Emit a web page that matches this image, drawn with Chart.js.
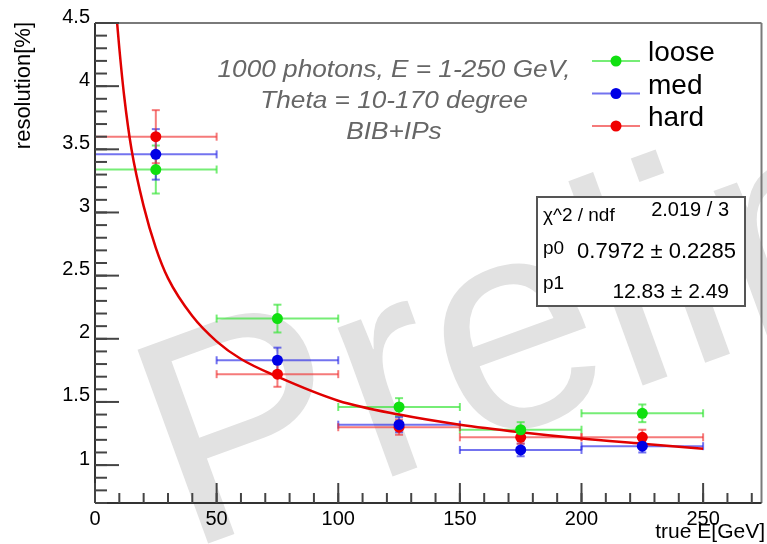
<!DOCTYPE html>
<html lang="en">
<head>
<meta charset="UTF-8">
<title>Resolution vs true E</title>
<script src="https://cdn.jsdelivr.net/npm/chart.js"></script>
<style>
  html, body { margin: 0; padding: 0; background: #fff; }
</style>
</head>
<body>
<canvas id="grafico" width="767" height="544"></canvas>
<script>
  // bins em energia (centro e meia largura)
  const binCenters = [25, 75, 125, 175, 225];
  const binHalfWidth = [25, 25, 25, 25, 25];

  const looseRes = [3.34, 2.16, 1.46, 1.28, 1.41];
  const looseErr = [0.19, 0.11, 0.07, 0.06, 0.07];
  const medRes = [3.46, 1.83, 1.32, 1.12, 1.15];
  const medErr = [0.20, 0.10, 0.06, 0.05, 0.05];
  const hardRes = [3.60, 1.72, 1.30, 1.22, 1.22];
  const hardErr = [0.21, 0.10, 0.06, 0.05, 0.06];

  // curva do ajuste
  const fitE = [9.1, 10, 12, 15, 20, 25, 30, 40, 50, 60, 75, 100, 125, 150, 175, 200, 225, 250];
  const fitRes = [4.50, 4.30, 3.92, 3.50, 3.05, 2.72, 2.48, 2.18, 1.98, 1.84, 1.70, 1.51, 1.40, 1.32, 1.26, 1.21, 1.17, 1.13];

  const xTicks = [0, 50, 100, 150, 200, 250];
  const yTicks = [1, 1.5, 2, 2.5, 3, 3.5, 4, 4.5];

  const infoLines = ["1000 photons, E = 1-250 GeV,", "Theta = 10-170 degree", "BIB+IPs"];
  const statsRows = [["\u03c7^2 / ndf", "2.019 / 3"], ["p0", "0.7972 \u00b1 0.2285"], ["p1", "12.83 \u00b1 2.49"]];

  const FONTE = '"Liberation Sans", Arial, sans-serif';

  const series = [
    { label: "loose", res: looseRes, err: looseErr, cor: "#10e010", barra: "rgba(60,230,60,0.7)" },
    { label: "med", res: medRes, err: medErr, cor: "#0000e6", barra: "rgba(40,40,230,0.65)" },
    { label: "hard", res: hardRes, err: hardErr, cor: "#f00000", barra: "rgba(240,50,50,0.65)" }
  ];

  function pontos(xs, ys) {
    return xs.map((x, i) => ({ x: x, y: ys[i] }));
  }

  function linha(ctx, x1, y1, x2, y2) {
    ctx.beginPath();
    ctx.moveTo(x1, y1);
    ctx.lineTo(x2, y2);
    ctx.stroke();
  }

  const decoracao = {
    id: "decoracao",
    beforeDraw(chart) {
      const ctx = chart.ctx;
      ctx.save();
      ctx.fillStyle = "#fff";
      ctx.fillRect(0, 0, chart.width, chart.height);
      // marca d'agua
      ctx.translate(185, 552);
      ctx.rotate(-20 * Math.PI / 180);
      ctx.font = "300px " + FONTE;
      ctx.fillStyle = "#e2e2e2";
      ctx.fillText("Preliminary", 0, 0);
      ctx.restore();
    },
    beforeDatasetsDraw(chart) {
      const ctx = chart.ctx;
      const sx = chart.scales.x, sy = chart.scales.y;
      ctx.save();
      ctx.lineWidth = 2;
      series.forEach(s => {
        ctx.strokeStyle = s.barra;
        binCenters.forEach((c, i) => {
          const px = sx.getPixelForValue(c);
          const py = sy.getPixelForValue(s.res[i]);
          const xl = sx.getPixelForValue(c - binHalfWidth[i]);
          const xr = sx.getPixelForValue(c + binHalfWidth[i]);
          const yt = sy.getPixelForValue(s.res[i] + s.err[i]);
          const yb = sy.getPixelForValue(s.res[i] - s.err[i]);
          linha(ctx, xl, py, xr, py);
          linha(ctx, xl, py - 4, xl, py + 4);
          linha(ctx, xr, py - 4, xr, py + 4);
          linha(ctx, px, yt, px, yb);
          linha(ctx, px - 4, yt, px + 4, yt);
          linha(ctx, px - 4, yb, px + 4, yb);
        });
      });
      ctx.restore();
    },
    afterDraw(chart) {
      const ctx = chart.ctx;
      const a = chart.chartArea;
      const sx = chart.scales.x, sy = chart.scales.y;
      ctx.save();

      // moldura
      ctx.lineWidth = 2;
      ctx.strokeStyle = "#7a7a7a";
      linha(ctx, a.left, a.top, a.right, a.top);
      linha(ctx, a.right, a.top, a.right, a.bottom);
      ctx.strokeStyle = "#333";
      linha(ctx, a.left, a.top, a.left, a.bottom);
      linha(ctx, a.left, a.bottom, a.right, a.bottom);

      // ticks para dentro
      ctx.strokeStyle = "#444";
      ctx.lineWidth = 2;
      for (let v = 0.7; v <= 4.51; v += 0.1) {
        const py = sy.getPixelForValue(v);
        linha(ctx, a.left, py, a.left + 12, py);
      }
      yTicks.forEach(v => {
        const py = sy.getPixelForValue(v);
        linha(ctx, a.left, py, a.left + 24, py);
      });
      for (let v = 10; v < 274; v += 10) {
        const px = sx.getPixelForValue(v);
        linha(ctx, px, a.bottom, px, a.bottom - 10);
      }
      xTicks.forEach(v => {
        const px = sx.getPixelForValue(v);
        linha(ctx, px, a.bottom, px, a.bottom - 20);
      });

      // titulos dos eixos
      ctx.fillStyle = "#000";
      ctx.font = "21px " + FONTE;
      ctx.textAlign = "right";
      ctx.textBaseline = "alphabetic";
      ctx.fillText("true E[GeV]", 765, 538);
      ctx.save();
      ctx.translate(30, 22);
      ctx.rotate(-Math.PI / 2);
      ctx.font = "22px " + FONTE;
      ctx.fillText("resolution[%]", 0, 0);
      ctx.restore();

      // texto informativo
      ctx.fillStyle = "#666";
      ctx.font = "italic 23px " + FONTE;
      ctx.textAlign = "center";
      infoLines.forEach((t, i) => {
        ctx.save();
        ctx.translate(394, 77 + i * 31);
        ctx.scale(1.14, 1);
        ctx.fillText(t, 0, 0);
        ctx.restore();
      });

      // legenda
      ctx.font = "28px " + FONTE;
      ctx.textAlign = "left";
      series.forEach((s, i) => {
        const ly = 61 + i * 32.5;
        ctx.strokeStyle = s.barra;
        ctx.lineWidth = 2;
        linha(ctx, 592, ly, 640, ly);
        ctx.fillStyle = s.cor;
        ctx.beginPath();
        ctx.arc(616, ly, 5.5, 0, Math.PI * 2);
        ctx.fill();
        ctx.fillStyle = "#000";
        ctx.fillText(s.label, 648, ly);
      });

      // caixa de estatistica
      ctx.fillStyle = "#fff";
      ctx.fillRect(537, 197, 208, 109);
      ctx.strokeStyle = "#555";
      ctx.lineWidth = 2;
      ctx.strokeRect(537, 197, 208, 109);
      ctx.fillStyle = "#000";
      const bases = [[221, 216], [254, 258], [289, 298]];
      const tamanhos = [[19, 20], [19, 22], [19, 21]];
      statsRows.forEach((r, i) => {
        ctx.textAlign = "left";
        ctx.font = tamanhos[i][0] + "px " + FONTE;
        ctx.fillText(r[0], 543, bases[i][0]);
        ctx.textAlign = "right";
        ctx.font = tamanhos[i][1] + "px " + FONTE;
        ctx.fillText(r[1], i === 1 ? 736 : 729, bases[i][1]);
      });

      ctx.restore();
    }
  };

  const datasets = series.map(s => ({
    label: s.label,
    data: pontos(binCenters, s.res),
    showLine: false,
    pointRadius: 5.5,
    pointHoverRadius: 5.5,
    pointBackgroundColor: s.cor,
    pointBorderColor: s.cor,
    pointBorderWidth: 0
  }));

  datasets.push({
    label: "fit",
    data: pontos(fitE, fitRes),
    showLine: true,
    pointRadius: 0,
    borderColor: "#e00000",
    borderWidth: 2.5,
    cubicInterpolationMode: "monotone",
    fill: false
  });

  new Chart(document.getElementById("grafico").getContext("2d"), {
    type: "scatter",
    data: { datasets: datasets },
    options: {
      responsive: false,
      animation: false,
      devicePixelRatio: 1,
      layout: { padding: { top: 23, right: 2, left: 0, bottom: 0 } },
      plugins: {
        legend: { display: false },
        tooltip: { enabled: false }
      },
      scales: {
        x: {
          type: "linear",
          min: 0,
          max: 274,
          afterBuildTicks: s => { s.ticks = xTicks.map(v => ({ value: v })); },
          afterFit: s => { s.height = 41; },
          grid: { display: false, drawTicks: false },
          border: { display: false },
          ticks: {
            padding: 4,
            color: "#000",
            font: { family: FONTE, size: 20 },
            maxRotation: 0,
            callback: v => String(v)
          }
        },
        y: {
          type: "linear",
          min: 0.7,
          max: 4.5,
          afterBuildTicks: s => { s.ticks = yTicks.map(v => ({ value: v })); },
          afterFit: s => { s.width = 95; },
          grid: { display: false, drawTicks: false },
          border: { display: false },
          ticks: {
            padding: 5,
            labelOffset: -6,
            color: "#000",
            font: { family: FONTE, size: 20 },
            callback: v => String(v)
          }
        }
      }
    },
    plugins: [decoracao]
  });
</script>
</body>
</html>
